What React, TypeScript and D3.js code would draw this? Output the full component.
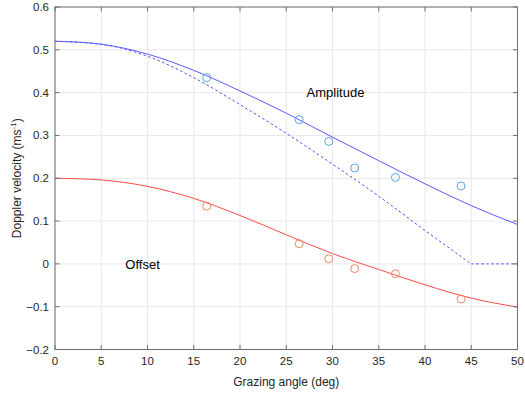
import React from "react";
import * as d3 from "d3";

const angles = [0, 5, 10, 15, 20, 25, 30, 35, 40, 45, 50];
const amplitudeFit = [0.52, 0.513, 0.49, 0.452, 0.404, 0.352, 0.296, 0.241, 0.187, 0.136, 0.092];
const amplitudeDashed = [0.52, 0.513, 0.485, 0.435, 0.372, 0.305, 0.233, 0.158, 0.078, 0, 0];
const offsetFit = [0.2, 0.196, 0.181, 0.153, 0.113, 0.068, 0.024, -0.013, -0.049, -0.08, -0.101];

const obsAngles = [16.4, 26.4, 29.6, 32.4, 36.8, 43.9];
const obsAmplitude = [0.435, 0.337, 0.286, 0.224, 0.202, 0.182];
const obsOffset = [0.135, 0.047, 0.012, -0.011, -0.023, -0.082];

const xTicks = [0, 5, 10, 15, 20, 25, 30, 35, 40, 45, 50];
const yTicks = [-0.2, -0.1, 0, 0.1, 0.2, 0.3, 0.4, 0.5, 0.6];

const W = 525, H = 394;
const L = 55, R = 517.5, T = 7, B = 349.5;

export default function App() {
  const x = d3.scaleLinear().domain([0, 50]).range([L, R]);
  const y = d3.scaleLinear().domain([-0.2, 0.6]).range([B, T]);
  const line = d3.line<[number, number]>().x(d => x(d[0])).y(d => y(d[1])).curve(d3.curveMonotoneX);
  const straight = d3.line<[number, number]>().x(d => x(d[0])).y(d => y(d[1]));
  const pts = (vals: number[]) => angles.map((a, i) => [a, vals[i]] as [number, number]);
  const dashedPts = pts(amplitudeDashed);
  const zeroIdx = amplitudeDashed.indexOf(0);
  const dashedCurve = dashedPts.slice(0, zeroIdx + 1);
  const dashedFlat = dashedPts.slice(zeroIdx);
  const axisCol = "#6e6e6e";
  const txtCol = "#262626";
  const font = "'Liberation Sans', Arial, sans-serif";
  return (
    <svg width={W} height={H} style={{ position: "absolute", left: 0, top: 0, background: "#fff" }} fontFamily={font}>
      {xTicks.map(t => (
        <line key={"gx" + t} x1={x(t)} x2={x(t)} y1={T} y2={B} stroke="#e8e8e8" strokeWidth={1} />
      ))}
      {yTicks.map(t => (
        <line key={"gy" + t} x1={L} x2={R} y1={y(t)} y2={y(t)} stroke="#e8e8e8" strokeWidth={1} />
      ))}
      <path d={(line(dashedCurve) || "") + (straight(dashedFlat) || "")} fill="none" stroke="#4f4fff" strokeWidth={1} strokeDasharray="2.5,2.5" />
      <path d={line(pts(amplitudeFit)) || ""} fill="none" stroke="#5a5aff" strokeWidth={1} />
      <path d={line(pts(offsetFit)) || ""} fill="none" stroke="#ff4a4a" strokeWidth={1} />
      {obsAngles.map((a, i) => (
        <circle key={"a" + i} cx={x(a)} cy={y(obsAmplitude[i])} r={4} fill="none" stroke="#55a6de" strokeWidth={1} />
      ))}
      {obsAngles.map((a, i) => (
        <circle key={"o" + i} cx={x(a)} cy={y(obsOffset[i])} r={4} fill="none" stroke="#ea8a64" strokeWidth={1} />
      ))}
      <rect x={L} y={T} width={R - L} height={B - T} fill="none" stroke={axisCol} strokeWidth={1} />
      {xTicks.map(t => (
        <g key={"tx" + t}>
          <line x1={x(t)} x2={x(t)} y1={B} y2={B - 4.5} stroke={axisCol} />
          <line x1={x(t)} x2={x(t)} y1={T} y2={T + 4.5} stroke={axisCol} />
          <text x={x(t)} y={B + 15} textAnchor="middle" fontSize={11.5} fill={txtCol}>{t}</text>
        </g>
      ))}
      {yTicks.map(t => (
        <g key={"ty" + t}>
          <line x1={L} x2={L + 4.5} y1={y(t)} y2={y(t)} stroke={axisCol} />
          <line x1={R} x2={R - 4.5} y1={y(t)} y2={y(t)} stroke={axisCol} />
          <text x={L - 6} y={y(t) + 4} textAnchor="end" fontSize={11.5} fill={txtCol}>{t === 0 ? "0" : d3.format(".1f")(t)}</text>
        </g>
      ))}
      <text x={(L + R) / 2} y={386} textAnchor="middle" fontSize={12} fill={txtCol}>Grazing angle (deg)</text>
      <text transform={`translate(21,${(T + B) / 2}) rotate(-90)`} textAnchor="middle" fontSize={12} fill={txtCol}>
        Doppler velocity (ms<tspan dy={-5} fontSize={8}>-1</tspan><tspan dy={5}>)</tspan>
      </text>
      <text x={x(27.2)} y={y(0.4) + 4.5} fontSize={13} fill="#000">Amplitude</text>
      <text x={x(7.6)} y={y(0) + 5} fontSize={13} fill="#000">Offset</text>
    </svg>
  );
}
